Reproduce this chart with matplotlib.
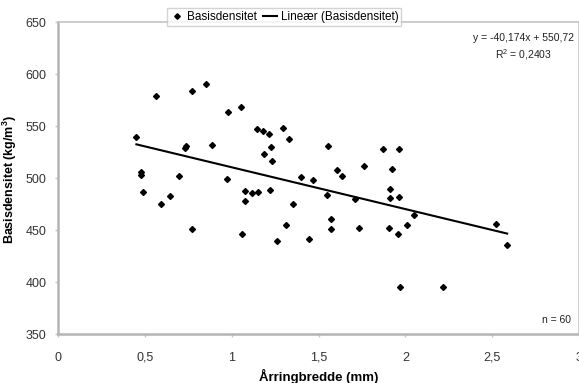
import numpy as np
import matplotlib
matplotlib.use('Agg')
import matplotlib.pyplot as plt
from matplotlib.lines import Line2D

plt.rcParams['font.family'] = ['Liberation Sans', 'DejaVu Sans']

# Årringbredde (mm) og basisdensitet (kg/m3)
aarringbredde = [0.45, 0.563, 0.479, 0.479, 0.487, 0.590, 0.646, 0.694, 0.732, 0.736,
                 0.770, 0.770, 0.851, 0.887, 0.977, 0.973, 1.052, 1.061, 1.073, 1.077,
                 1.117, 1.149, 1.218, 1.261, 1.314, 1.142, 1.182, 1.213, 1.295, 1.328,
                 1.228, 1.186, 1.234, 1.353, 1.447, 1.548, 1.573, 1.573, 1.734, 1.709,
                 1.908, 1.960, 1.968, 2.008, 1.910, 1.962, 1.556, 1.399, 1.468, 1.604,
                 1.632, 1.759, 1.870, 1.962, 1.920, 1.912, 2.050, 2.519, 2.586, 2.218]
basisdensitet = [540, 579, 506, 503, 487, 475, 483, 502, 529, 531,
                 451, 584, 591, 532, 564, 499, 569, 446, 478, 488,
                 486, 487, 489, 440, 455, 547, 545, 543, 548, 538,
                 530, 523, 517, 475, 442, 484, 461, 451, 452, 480,
                 452, 446, 395, 455, 481, 482, 531, 501, 498, 508,
                 502, 512, 528, 528, 509, 490, 465, 456, 436, 395]

# Lineær tendenslinje (Excel)
haeldning = -40.174
skaering = 550.72

xticks = [0, 0.5, 1, 1.5, 2, 2.5, 3]
xticklabels = ['0', '0,5', '1', '1,5', '2', '2,5', '3']
yticks = [350, 400, 450, 500, 550, 600, 650]

fig = plt.figure(figsize=(5.79, 3.83), dpi=100)
ax = fig.add_axes([0.1007, 0.1272, 0.8993, 0.8146])

ax.plot(aarringbredde, basisdensitet, linestyle='none', marker='D',
        markersize=3.0, color='black', zorder=3)

x_line = np.array([min(aarringbredde), max(aarringbredde)])
ax.plot(x_line, haeldning * x_line + skaering, color='black', linewidth=1.5, zorder=2)

ax.set_xlim(0, 3)
ax.set_ylim(350, 650)
ax.set_xticks(xticks)
ax.set_xticklabels(xticklabels)
ax.set_yticks(yticks)
ax.tick_params(axis='both', labelsize=9, labelcolor='#333333', color='#c8c8c8',
               length=2.5, width=1, direction='out')
ax.tick_params(axis='x', pad=10)
ax.tick_params(axis='y', pad=6)

for side in ['left', 'bottom']:
    ax.spines[side].set_color('#b4b4b4')
    ax.spines[side].set_linewidth(1.8)
for side in ['top', 'right']:
    ax.spines[side].set_color('#c4c4c4')
    ax.spines[side].set_linewidth(1.2)

ax.set_xlabel('Årringbredde (mm)', fontsize=9.5, fontweight='bold', labelpad=4)
ax.set_ylabel('Basisdensitet (kg/m$^\\mathregular{3}$)', fontsize=9,
              fontweight='bold')
ax.yaxis.set_label_coords(-0.075, 0.495)

ax.text(0.99, 0.965,
        'y = -40,174x + 550,72\nR$^\\mathregular{2}$ = 0,2403',
        transform=ax.transAxes, ha='right', va='top', fontsize=7.5,
        color='#222222', linespacing=1.35, multialignment='center')
ax.text(0.985, 0.03, 'n = 60', transform=ax.transAxes, ha='right', va='bottom',
        fontsize=7.5, color='#222222')

handles = [Line2D([], [], linestyle='none', marker='D', markersize=2.8, color='black'),
           Line2D([], [], color='black', linewidth=1.5)]
leg = fig.legend(handles, ['Basisdensitet', 'Lineær (Basisdensitet)'],
                 loc='center', bbox_to_anchor=(284 / 579, 1 - 17 / 383), ncol=2,
                 fontsize=8.5, frameon=True, fancybox=False, borderpad=0.25,
                 handlelength=1.2, handletextpad=0.3, columnspacing=0.5,
                 borderaxespad=0)
leg.get_frame().set_edgecolor('#c8c8c8')
leg.get_frame().set_linewidth(1.0)

fig.savefig('out.png', dpi=100)
